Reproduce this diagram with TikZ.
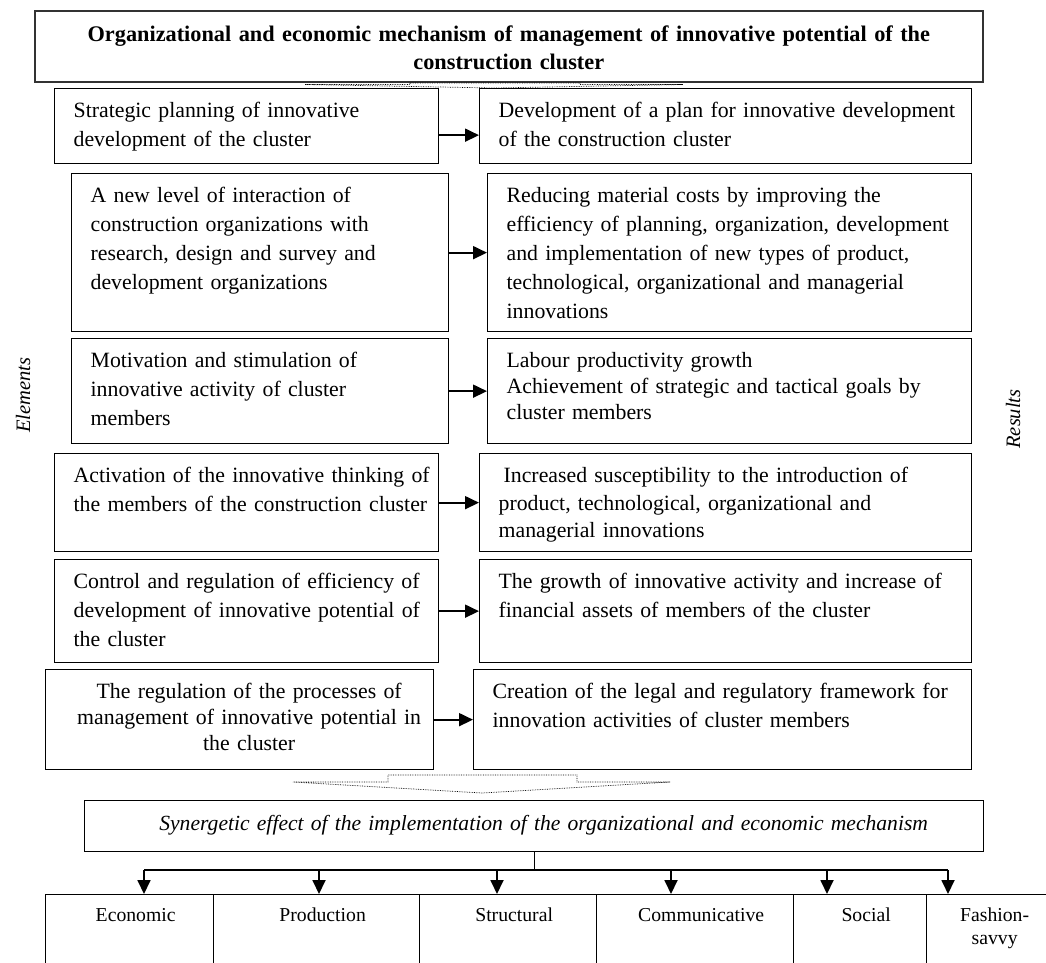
\documentclass[tikz,border=0pt]{standalone}
\usepackage{fontspec}
\setmainfont{Liberation Serif}
\usetikzlibrary{arrows.meta}
\begin{document}
\begin{tikzpicture}[x=1pt, y=-1pt, >={Triangle[length=14pt,width=13pt]},
    box/.style={draw, line width=1.3pt, inner sep=0pt, anchor=north west, align=left,
      text height=29pt, execute at begin node=\advance\leftskip19pt,
      font=\fontsize{21.8}{29}\selectfont},
    title/.style={draw=black!80, line width=1.6pt, inner sep=0pt, anchor=north west, align=center,
      font=\fontsize{22.3}{28}\selectfont\bfseries},
    effect/.style={draw, line width=1.3pt, inner sep=0pt, anchor=north west, align=center,
      text height=27pt, text depth=45pt, execute at begin node=\advance\leftskip12pt,
      font=\fontsize{19.7}{23}\selectfont},
    side/.style={rotate=90, font=\fontsize{20.5}{24}\selectfont\itshape},
    link/.style={->, line width=1.8pt}]
  \useasboundingbox (0,0) rectangle (1046,963);
  \clip (0,0) rectangle (1046,963);
  \node[title, text width=948pt, text height=31pt, text depth=40pt] (head) at (34,10)
    {Organizational and economic mechanism of management of innovative potential of the\\construction cluster};
  \draw[densely dotted, line width=0.7pt] (410,83) -- (580,83) -- (580,84.5) -- (683,84.5) -- (494,88)
    -- (305,84.5) -- (410,84.5) -- cycle;

  \node[box, text width=384pt, text depth=46pt] (l1) at (54,88)
    {Strategic planning of innovative\\development of the cluster};
  \node[box, text width=492pt, text depth=46pt] (r1) at (479,88)
    {Development of a plan for innovative development\\of the construction cluster};
  \node[box, text width=377pt, text depth=129pt] (l2) at (71,173)
    {A new level of interaction of\\construction organizations with\\research, design and survey and\\development organizations};
  \node[box, text width=484pt, text depth=129pt] (r2) at (487,173)
    {Reducing material costs by improving the\\efficiency of planning, organization, development\\and implementation of new types of product,\\technological, organizational and managerial\\innovations};
  \node[box, text width=377pt, text depth=76pt] (l3) at (71,338)
    {Motivation and stimulation of\\innovative activity of cluster\\members};
  \node[box, text width=484pt, text depth=76pt, font=\fontsize{21.8}{26}\selectfont] (r3) at (487,338)
    {Labour productivity growth\\Achievement of strategic and tactical goals by\\cluster members};
  \node[box, text width=384pt, text depth=69pt] (l4) at (54,453)
    {Activation of the innovative thinking of\\the members of the construction cluster};
  \node[box, text width=492pt, text depth=69pt, font=\fontsize{21.8}{27.5}\selectfont] (r4) at (479,453)
    {\hspace*{5pt}Increased susceptibility to the introduction of\\product, technological, organizational and\\managerial innovations};
  \node[box, text width=384pt, text depth=74pt] (l5) at (54,559)
    {Control and regulation of efficiency of\\development of innovative potential of\\the cluster};
  \node[box, text width=492pt, text depth=74pt] (r5) at (479,559)
    {The growth of innovative activity and increase of\\financial assets of members of the cluster};
  \node[box, text width=388pt, text depth=71pt, align=center, font=\fontsize{21.8}{26}\selectfont] (l6) at (45,669)
    {The regulation of the processes of\\management of innovative potential in\\the cluster};
  \node[box, text width=498pt, text depth=71pt] (r6) at (473,669)
    {Creation of the legal and regulatory framework for\\innovation activities of cluster members};

  \draw[link] ([yshift=-9pt]l1.east) -- ([yshift=-9pt]l1.east -| r1.west);
  \draw[link] (l2) -- (r2);
  \draw[link] (l3) -- (r3);
  \draw[link] (l4) -- (r4);
  \draw[link] (l5) -- (r5);
  \draw[link] (l6) -- (r6);

  \node[side] (elements) at (23,395) {Elements};
  \node[side] (results) at (1013,419) {Results};

  \draw[densely dotted, line width=0.7pt] (388,775) -- (577,775) -- (577,782) -- (670,782) -- (482,793)
    -- (293,782) -- (388,782) -- cycle;

  \node[box, align=center, text width=899pt, text height=30pt, text depth=21pt,
    font=\fontsize{21.6}{26}\selectfont\itshape] (syn) at (84,800)
    {Synergetic effect of the implementation of the organizational and economic mechanism};

  \node[effect, text width=168pt] (b1) at (45,894) {Economic};
  \node[effect, text width=206pt] (b2) at (213,894) {Production};
  \node[effect, text width=177pt] (b3) at (419,894) {Structural};
  \node[effect, text width=197pt] (b4) at (596,894) {Communicative};
  \node[effect, text width=133pt] (b5) at (793,894) {Social};
  \node[effect, text width=124pt] (b6) at (926,894) {Fashion-\\savvy};

  \coordinate (busl) at (144,870);
  \coordinate (busr) at (948,870);
  \draw[line width=1.3pt] (syn.south) -- (syn.south |- busl);
  \draw[line width=1.3pt] (busl) -- (busr);
  \foreach \x/\b in {144/b1, 319/b2, 497/b3, 671/b4, 827/b5, 948/b6}
    \draw[link] (busl -| \x,0) -- (\b.north -| \x,0);
\end{tikzpicture}
\end{document}
